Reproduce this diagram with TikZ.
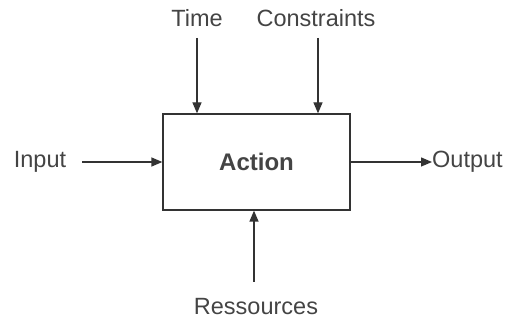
\documentclass[tikz,border=0pt]{standalone}
\usepackage{fontspec}
\setmainfont{Liberation Sans}
\usetikzlibrary{arrows.meta}
\definecolor{ln}{HTML}{333333}
\definecolor{tx}{HTML}{444444}
\begin{document}
\begin{tikzpicture}[x=1pt,y=1pt,
  lbl/.style={text=tx,font=\fontsize{23.5}{27}\selectfont,inner sep=0pt},
  conn/.style={draw=ln,line width=1.3pt,-{Triangle[length=11pt,width=9pt]}}]
\useasboundingbox (0,0) rectangle (506,328);
\node[draw=ln,line width=1.3pt,minimum width=187pt,minimum height=96pt,inner sep=0pt,
  text=tx,font=\fontsize{24}{28}\selectfont\bfseries] (act) at (256.5,166) {Action};
\node[lbl] (time) at (197,310) {Time};
\node[lbl] (cons) at (316,310) {Constraints};
\node[lbl] (inp) at (40,166) {Input};
\node[lbl,anchor=west] (out) at (432,166) {Output};
\node[lbl] (res) at (256,21) {Ressources};
\coordinate (t1) at (197,290);
\coordinate (c1) at (318,290);
\coordinate (i1) at (82,166);
\coordinate (r1) at (254,46);
\draw[conn] (t1) -- (t1 |- act.north);
\draw[conn] (c1) -- (c1 |- act.north);
\draw[conn] (i1) -- (act.west);
\draw[conn] (act.east) -- (out.west);
\draw[conn] (r1) -- (r1 |- act.south);
\end{tikzpicture}
\end{document}
